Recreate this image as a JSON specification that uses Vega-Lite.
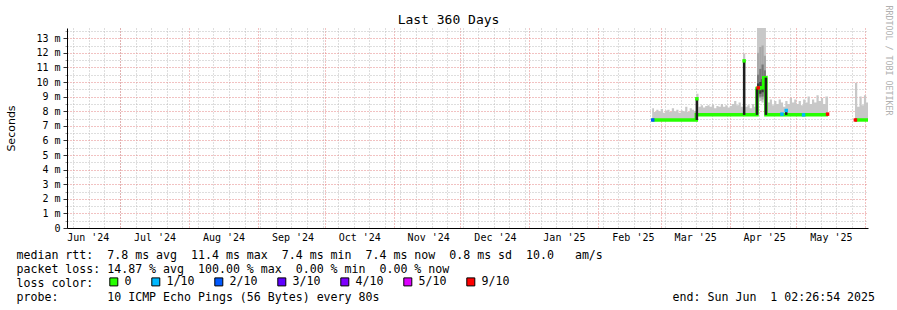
{
 "$schema": "https://vega.github.io/schema/vega-lite/v6.json",
 "width": 801, "height": 200,
 "autosize": {"type": "none"},
 "padding": {"left": 67, "top": 28, "right": 29, "bottom": 82},
 "background": "white",
 "config": {
  "view": {"stroke": null},
  "axis": {"labelFont": "DejaVu Sans Mono", "labelFontSize": 10, "labelColor": "#000", "titleFont": "DejaVu Sans Mono", "titleFontWeight": "normal", "titleColor": "#000", "labelFlush": false, "labelOverlap": false, "labelBound": false}
 },
 "datasets": {
  "days": [
   {"seg":"a","d":"2025-02-25T04:00:00Z","lo":7.4,"hi":8.2,"med":7.4},
   {"seg":"a","d":"2025-02-26T00:00:00Z","lo":7.4,"hi":7.95,"med":7.4},
   {"seg":"a","d":"2025-02-27T00:00:00Z","lo":7.4,"hi":8.1,"med":7.4},
   {"seg":"a","d":"2025-02-28T00:00:00Z","lo":7.4,"hi":8.0,"med":7.4},
   {"seg":"a","d":"2025-03-01T00:00:00Z","lo":7.4,"hi":8.15,"med":7.4},
   {"seg":"a","d":"2025-03-02T00:00:00Z","lo":7.4,"hi":7.9,"med":7.4},
   {"seg":"a","d":"2025-03-03T00:00:00Z","lo":7.4,"hi":8.05,"med":7.4},
   {"seg":"a","d":"2025-03-04T00:00:00Z","lo":7.4,"hi":8.1,"med":7.4},
   {"seg":"a","d":"2025-03-05T00:00:00Z","lo":7.4,"hi":7.95,"med":7.4},
   {"seg":"a","d":"2025-03-06T00:00:00Z","lo":7.4,"hi":8.2,"med":7.4},
   {"seg":"a","d":"2025-03-07T00:00:00Z","lo":7.4,"hi":8.0,"med":7.4},
   {"seg":"a","d":"2025-03-08T00:00:00Z","lo":7.4,"hi":8.1,"med":7.4},
   {"seg":"a","d":"2025-03-09T00:00:00Z","lo":7.4,"hi":7.9,"med":7.4},
   {"seg":"a","d":"2025-03-10T00:00:00Z","lo":7.4,"hi":8.05,"med":7.4},
   {"seg":"a","d":"2025-03-11T00:00:00Z","lo":7.4,"hi":8.0,"med":7.4},
   {"seg":"a","d":"2025-03-12T00:00:00Z","lo":7.4,"hi":8.3,"med":7.4},
   {"seg":"a","d":"2025-03-13T00:00:00Z","lo":7.4,"hi":7.95,"med":7.4},
   {"seg":"a","d":"2025-03-14T00:00:00Z","lo":7.4,"hi":8.2,"med":7.4},
   {"seg":"a","d":"2025-03-15T00:00:00Z","lo":7.4,"hi":8.1,"med":7.4},
   {"seg":"a","d":"2025-03-16T00:00:00Z","lo":7.4,"hi":8.0,"med":7.4},
   {"seg":"a","d":"2025-03-17T00:00:00Z","lo":7.75,"hi":9.2,"med":7.75},
   {"seg":"a","d":"2025-03-18T00:00:00Z","lo":7.75,"hi":8.3,"med":7.75},
   {"seg":"a","d":"2025-03-19T00:00:00Z","lo":7.75,"hi":8.4,"med":7.75},
   {"seg":"a","d":"2025-03-20T00:00:00Z","lo":7.75,"hi":8.25,"med":7.75},
   {"seg":"a","d":"2025-03-21T00:00:00Z","lo":7.75,"hi":8.35,"med":7.75},
   {"seg":"a","d":"2025-03-22T00:00:00Z","lo":7.75,"hi":8.4,"med":7.75},
   {"seg":"a","d":"2025-03-23T00:00:00Z","lo":7.75,"hi":8.3,"med":7.75},
   {"seg":"a","d":"2025-03-24T00:00:00Z","lo":7.75,"hi":8.45,"med":7.75},
   {"seg":"a","d":"2025-03-25T00:00:00Z","lo":7.75,"hi":8.2,"med":7.75},
   {"seg":"a","d":"2025-03-26T00:00:00Z","lo":7.75,"hi":8.35,"med":7.75},
   {"seg":"a","d":"2025-03-27T00:00:00Z","lo":7.75,"hi":8.3,"med":7.75},
   {"seg":"a","d":"2025-03-28T00:00:00Z","lo":7.75,"hi":8.5,"med":7.75},
   {"seg":"a","d":"2025-03-29T00:00:00Z","lo":7.75,"hi":8.3,"med":7.75},
   {"seg":"a","d":"2025-03-30T00:00:00Z","lo":7.75,"hi":8.4,"med":7.75},
   {"seg":"a","d":"2025-03-31T00:00:00Z","lo":7.75,"hi":8.25,"med":7.75},
   {"seg":"a","d":"2025-04-01T00:00:00Z","lo":7.75,"hi":8.35,"med":7.75},
   {"seg":"a","d":"2025-04-02T00:00:00Z","lo":7.75,"hi":8.5,"med":7.75},
   {"seg":"a","d":"2025-04-03T00:00:00Z","lo":7.75,"hi":8.7,"med":7.75},
   {"seg":"a","d":"2025-04-04T00:00:00Z","lo":7.75,"hi":8.4,"med":7.75},
   {"seg":"a","d":"2025-04-05T00:00:00Z","lo":7.75,"hi":8.6,"med":7.75},
   {"seg":"a","d":"2025-04-06T00:00:00Z","lo":7.75,"hi":8.3,"med":7.75},
   {"seg":"a","d":"2025-04-07T00:00:00Z","lo":7.75,"hi":11.95,"med":7.75},
   {"seg":"a","d":"2025-04-08T00:00:00Z","lo":7.75,"hi":8.3,"med":7.75},
   {"seg":"a","d":"2025-04-09T00:00:00Z","lo":7.75,"hi":8.4,"med":7.75},
   {"seg":"a","d":"2025-04-10T00:00:00Z","lo":7.75,"hi":8.2,"med":7.75},
   {"seg":"a","d":"2025-04-11T00:00:00Z","lo":7.75,"hi":8.5,"med":7.75},
   {"seg":"a","d":"2025-04-12T00:00:00Z","lo":7.75,"hi":8.3,"med":7.75},
   {"seg":"a","d":"2025-04-13T07:00:00Z","lo":8.9,"hi":13.7,"med":9.55},
   {"seg":"a","d":"2025-04-14T07:00:00Z","lo":8.7,"hi":13.7,"med":9.6},
   {"seg":"a","d":"2025-04-15T07:00:00Z","lo":8.6,"hi":13.7,"med":9.6},
   {"seg":"a","d":"2025-04-16T07:00:00Z","lo":8.9,"hi":13.7,"med":10.3},
   {"seg":"a","d":"2025-04-17T07:00:00Z","lo":7.75,"hi":8.9,"med":7.75},
   {"seg":"a","d":"2025-04-18T00:00:00Z","lo":7.75,"hi":8.6,"med":7.75},
   {"seg":"a","d":"2025-04-19T00:00:00Z","lo":7.75,"hi":8.8,"med":7.75},
   {"seg":"a","d":"2025-04-20T00:00:00Z","lo":7.75,"hi":8.4,"med":7.75},
   {"seg":"a","d":"2025-04-21T00:00:00Z","lo":7.75,"hi":8.7,"med":7.75},
   {"seg":"a","d":"2025-04-22T00:00:00Z","lo":7.75,"hi":8.5,"med":7.75},
   {"seg":"a","d":"2025-04-23T00:00:00Z","lo":7.75,"hi":8.8,"med":7.75},
   {"seg":"a","d":"2025-04-24T00:00:00Z","lo":7.75,"hi":8.6,"med":7.75},
   {"seg":"a","d":"2025-04-25T00:00:00Z","lo":7.75,"hi":8.3,"med":7.75},
   {"seg":"a","d":"2025-04-26T00:00:00Z","lo":7.75,"hi":8.7,"med":7.75},
   {"seg":"a","d":"2025-04-27T00:00:00Z","lo":7.75,"hi":8.5,"med":7.75},
   {"seg":"a","d":"2025-04-28T00:00:00Z","lo":7.75,"hi":8.9,"med":7.75},
   {"seg":"a","d":"2025-04-29T00:00:00Z","lo":7.75,"hi":8.6,"med":7.75},
   {"seg":"a","d":"2025-04-30T00:00:00Z","lo":7.75,"hi":8.8,"med":7.75},
   {"seg":"a","d":"2025-05-01T00:00:00Z","lo":7.75,"hi":8.5,"med":7.75},
   {"seg":"a","d":"2025-05-02T00:00:00Z","lo":7.75,"hi":8.7,"med":7.75},
   {"seg":"a","d":"2025-05-03T00:00:00Z","lo":7.75,"hi":8.4,"med":7.75},
   {"seg":"a","d":"2025-05-04T00:00:00Z","lo":7.75,"hi":8.8,"med":7.75},
   {"seg":"a","d":"2025-05-05T00:00:00Z","lo":7.75,"hi":8.6,"med":7.75},
   {"seg":"a","d":"2025-05-06T00:00:00Z","lo":7.75,"hi":9.0,"med":7.75},
   {"seg":"a","d":"2025-05-07T00:00:00Z","lo":7.75,"hi":8.5,"med":7.75},
   {"seg":"a","d":"2025-05-08T00:00:00Z","lo":7.75,"hi":8.8,"med":7.75},
   {"seg":"a","d":"2025-05-09T00:00:00Z","lo":7.75,"hi":8.6,"med":7.75},
   {"seg":"a","d":"2025-05-10T00:00:00Z","lo":7.75,"hi":9.1,"med":7.75},
   {"seg":"a","d":"2025-05-11T00:00:00Z","lo":7.75,"hi":8.7,"med":7.75},
   {"seg":"a","d":"2025-05-12T00:00:00Z","lo":7.75,"hi":8.9,"med":7.75},
   {"seg":"a","d":"2025-05-13T00:00:00Z","lo":7.75,"hi":8.5,"med":7.75},
   {"seg":"a","d":"2025-05-14T00:00:00Z","lo":7.75,"hi":9.0,"med":7.75},
   {"seg":"a","d":"2025-05-15T05:00:00Z","lo":7.75,"hi":9.0,"med":7.75},
   {"seg":"b","d":"2025-05-27T08:00:00Z","lo":7.4,"hi":9.95,"med":7.4},
   {"seg":"b","d":"2025-05-28T08:00:00Z","lo":7.4,"hi":8.3,"med":7.4},
   {"seg":"b","d":"2025-05-29T08:00:00Z","lo":7.4,"hi":9.0,"med":7.4},
   {"seg":"b","d":"2025-05-30T08:00:00Z","lo":7.4,"hi":8.4,"med":7.4},
   {"seg":"b","d":"2025-05-31T08:00:00Z","lo":7.4,"hi":9.1,"med":7.4},
   {"seg":"b","d":"2025-06-01T08:00:00Z","lo":7.4,"hi":8.6,"med":7.4},
   {"seg":"b","d":"2025-06-02T04:00:00Z","lo":7.4,"hi":8.6,"med":7.4}
  ],
  "bands": [
   {"band":"mid","d":"2025-04-13T07:00:00Z","d2":"2025-04-14T07:00:00Z","lo":9.0,"hi":12.0},
   {"band":"mid","d":"2025-04-14T07:00:00Z","d2":"2025-04-15T07:00:00Z","lo":8.9,"hi":12.4},
   {"band":"mid","d":"2025-04-15T07:00:00Z","d2":"2025-04-16T07:00:00Z","lo":8.8,"hi":12.5},
   {"band":"mid","d":"2025-04-16T07:00:00Z","d2":"2025-04-17T07:00:00Z","lo":9.0,"hi":11.8},
   {"band":"inner","d":"2025-04-13T07:00:00Z","d2":"2025-04-14T07:00:00Z","lo":9.1,"hi":10.5},
   {"band":"inner","d":"2025-04-14T07:00:00Z","d2":"2025-04-15T07:00:00Z","lo":9.0,"hi":10.9},
   {"band":"inner","d":"2025-04-15T07:00:00Z","d2":"2025-04-16T07:00:00Z","lo":9.0,"hi":11.2},
   {"band":"inner","d":"2025-04-16T07:00:00Z","d2":"2025-04-17T07:00:00Z","lo":9.2,"hi":10.8},
   {"band":"core","d":"2025-04-13T07:00:00Z","d2":"2025-04-14T07:00:00Z","lo":9.2,"hi":9.9},
   {"band":"core","d":"2025-04-14T07:00:00Z","d2":"2025-04-15T07:00:00Z","lo":9.2,"hi":10.0},
   {"band":"core","d":"2025-04-15T07:00:00Z","d2":"2025-04-16T07:00:00Z","lo":9.3,"hi":10.2},
   {"band":"core","d":"2025-04-16T07:00:00Z","d2":"2025-04-17T07:00:00Z","lo":9.6,"hi":10.3}
  ],
  "spikes": [
   {"d":"2025-03-17T06:00:00Z","lo":7.4,"hi":8.85},
   {"d":"2025-04-07T12:00:00Z","lo":7.75,"hi":11.45},
   {"d":"2025-04-13T07:00:00Z","lo":7.75,"hi":9.55},
   {"d":"2025-04-17T07:00:00Z","lo":7.75,"hi":10.3},
   {"d":"2025-04-26T10:00:00Z","lo":7.75,"hi":8.0}
  ],
  "loss": [
   {"d":"2025-02-25T10:00:00Z","med":7.4,"loss":"2/10"},
   {"d":"2025-03-17T06:00:00Z","med":8.85,"loss":"0"},
   {"d":"2025-04-07T12:00:00Z","med":11.45,"loss":"0"},
   {"d":"2025-04-13T20:00:00Z","med":9.6,"loss":"9/10"},
   {"d":"2025-04-24T12:00:00Z","med":7.8,"loss":"1/10"},
   {"d":"2025-04-26T10:00:00Z","med":8.05,"loss":"1/10"},
   {"d":"2025-05-04T05:00:00Z","med":7.75,"loss":"1/10"},
   {"d":"2025-05-15T00:00:00Z","med":7.8,"loss":"9/10"},
   {"d":"2025-05-27T12:00:00Z","med":7.4,"loss":"9/10"}
  ]
 },
 "layer": [
  {
   "data": {"name": "days"},
   "mark": {"type": "area", "interpolate": "step-after", "color": "#c8c8c8", "opacity": 1},
   "encoding": {
    "x": {"field": "d", "type": "temporal", "scale": {"type": "utc", "domain": [1717732800000, 1748836800000]},
     "axis": {"orient": "bottom", "values": [1717977600000,1718582400000,1719187200000,1719792000000,1720396800000,1721001600000,1721606400000,1722211200000,1722816000000,1723420800000,1724025600000,1724630400000,1725235200000,1725840000000,1726444800000,1727049600000,1727654400000,1728259200000,1728864000000,1729468800000,1730073600000,1730678400000,1731283200000,1731888000000,1732492800000,1733097600000,1733702400000,1734307200000,1734912000000,1735516800000,1736121600000,1736726400000,1737331200000,1737936000000,1738540800000,1739145600000,1739750400000,1740355200000,1740960000000,1741564800000,1742169600000,1742774400000,1743379200000,1743984000000,1744588800000,1745193600000,1745798400000,1746403200000,1747008000000,1747612800000,1748217600000],
      "grid": true, "gridColor": "#bdbdbd", "gridDash": [1, 2], "labels": false, "ticks": false, "domain": false, "title": null}},
    "y": {"field": "lo", "type": "quantitative", "scale": {"domain": [0, 13.7], "nice": false},
     "axis": {"orient": "left", "values": [0.5,1.5,2.5,3.5,4.5,5.5,6.5,7.5,8.5,9.5,10.5,11.5,12.5,13.5],
      "grid": true, "gridColor": "#bdbdbd", "gridDash": [1, 2], "labels": false, "ticks": true, "tickSize": 2, "tickColor": "#999999", "domain": false, "title": null}},
    "y2": {"field": "hi"},
    "detail": {"field": "seg"}
   }
  },
  {
   "data": {"name": "bands"},
   "mark": {"type": "rect"},
   "encoding": {
    "x": {"field": "d", "type": "temporal", "scale": {"type": "utc", "domain": [1717732800000, 1748836800000]},
     "axis": {"orient": "bottom", "values": [1719792000000,1722470400000,1725148800000,1727740800000,1730419200000,1733011200000,1735689600000,1738368000000,1740787200000,1743465600000,1746057600000,1748736000000],
      "grid": true, "gridColor": "#e58585", "gridDash": [1, 2], "labels": false, "ticks": false, "domain": false, "title": null}},
    "x2": {"field": "d2"},
    "y": {"field": "lo", "type": "quantitative", "scale": {"domain": [0, 13.7], "nice": false},
     "axis": {"orient": "left", "values": [0,1,2,3,4,5,6,7,8,9,10,11,12,13],
      "grid": true, "gridColor": "#e58585", "gridDash": [1, 2],
      "labelExpr": "datum.value == 0 ? '0' : datum.value + ' m'", "labelPadding": 3,
      "ticks": true, "tickSize": 4, "tickColor": "#333333", "domain": true, "domainColor": "#000000",
      "title": "Seconds", "titleFont": "DejaVu Sans", "titleFontSize": 11, "titleX": -56, "titleY": 100, "titleAngle": -90, "titleAlign": "center", "titleBaseline": "middle"}},
    "y2": {"field": "hi"},
    "fill": {"field": "band", "type": "nominal", "scale": {"domain": ["mid", "inner", "core"], "range": ["#a8a8a8", "#787878", "#3a3a3a"]}, "legend": null}
   }
  },
  {
   "data": {"name": "days"},
   "mark": {"type": "line", "interpolate": "step-after", "color": "#26ff00", "strokeWidth": 3.5},
   "encoding": {
    "x": {"field": "d", "type": "temporal", "scale": {"type": "utc", "domain": [1717732800000, 1748836800000]},
     "axis": {"orient": "bottom", "values": [1718539200000,1721131200000,1723809600000,1726488000000,1729080000000,1731758400000,1734350400000,1737028800000,1739707200000,1742126400000,1744804800000,1747396800000],
      "labelExpr": "utcFormat(datum.value, \"%b '%y\")", "grid": false, "ticks": false, "labelPadding": 4, "domain": true, "domainColor": "#000000",
      "title": [
       "median\u00a0rtt:\u00a0\u00a07.8\u00a0ms\u00a0avg\u00a0\u00a011.4\u00a0ms\u00a0max\u00a0\u00a07.4\u00a0ms\u00a0min\u00a0\u00a07.4\u00a0ms\u00a0now\u00a0\u00a00.8\u00a0ms\u00a0sd\u00a0\u00a010.0\u00a0\u00a0\u00a0am/s",
       "packet\u00a0loss:\u00a014.87\u00a0%\u00a0avg\u00a0\u00a0100.00\u00a0%\u00a0max\u00a0\u00a00.00\u00a0%\u00a0min\u00a0\u00a00.00\u00a0%\u00a0now",
       "loss\u00a0color:",
       "probe:\u00a0\u00a0\u00a0\u00a0\u00a0\u00a0\u00a010\u00a0ICMP\u00a0Echo\u00a0Pings\u00a0(56\u00a0Bytes)\u00a0every\u00a080s\u00a0\u00a0\u00a0\u00a0\u00a0\u00a0\u00a0\u00a0\u00a0\u00a0\u00a0\u00a0\u00a0\u00a0\u00a0\u00a0\u00a0\u00a0\u00a0\u00a0\u00a0\u00a0\u00a0\u00a0\u00a0\u00a0\u00a0\u00a0\u00a0\u00a0\u00a0\u00a0\u00a0\u00a0\u00a0\u00a0\u00a0\u00a0\u00a0\u00a0\u00a0\u00a0end:\u00a0Sun\u00a0Jun\u00a0\u00a01\u00a002:26:54\u00a02025"
      ],
      "titleFont": "DejaVu Sans Mono", "titleFontSize": 11.6, "titleLineHeight": 14, "titleX": -51, "titleY": 30.5, "titleAlign": "left", "titleAnchor": "start", "titleBaseline": "alphabetic", "titleAngle": 0}},
    "y": {"field": "med", "type": "quantitative", "scale": {"domain": [0, 13.7], "nice": false},
     "axis": {"orient": "right", "labels": false, "ticks": false, "domain": false, "grid": false,
      "title": "RRDTOOL / TOBI OETIKER", "titleFont": "DejaVu Sans Mono", "titleFontSize": 8.3, "titleColor": "#b0b0b0", "titleAngle": 90, "titleX": 19, "titleY": 32, "titleAlign": "center", "titleBaseline": "middle"}},
    "detail": {"field": "seg"}
   }
  },
  {
   "data": {"name": "spikes"},
   "mark": {"type": "rule", "color": "#1e1e1e", "strokeWidth": 2.5},
   "encoding": {
    "x": {"field": "d", "type": "temporal", "scale": {"type": "utc", "domain": [1717732800000, 1748836800000]},
     "axis": {"orient": "top", "labels": false, "ticks": false, "domain": false, "grid": false,
      "title": "Last 360 Days", "titleFont": "DejaVu Sans Mono", "titleFontSize": 13, "titleX": 381, "titleY": -5, "titleAlign": "center", "titleBaseline": "alphabetic", "titleAngle": 0}},
    "y": {"field": "lo", "type": "quantitative", "scale": {"domain": [0, 13.7], "nice": false}, "axis": null},
    "y2": {"field": "hi"}
   }
  },
  {
   "data": {"name": "loss"},
   "mark": {"type": "point", "shape": "square", "filled": true, "size": 12, "opacity": 1},
   "encoding": {
    "x": {"field": "d", "type": "temporal", "scale": {"type": "utc", "domain": [1717732800000, 1748836800000]}, "axis": null},
    "y": {"field": "med", "type": "quantitative", "scale": {"domain": [0, 13.7], "nice": false}, "axis": null},
    "color": {"field": "loss", "type": "nominal",
     "scale": {"domain": ["0", "1/10", "2/10", "3/10", "4/10", "5/10", "9/10"], "range": ["#26ff00", "#00b8ff", "#0059ff", "#5e00ff", "#7e00ff", "#dd00ff", "#ff0000"]},
     "legend": {"title": null, "orient": "none", "legendX": 41, "legendY": 248, "direction": "horizontal", "symbolType": "square", "symbolSize": 64, "symbolStrokeColor": "#000000", "symbolStrokeWidth": 1, "symbolOpacity": 1, "labelFont": "DejaVu Sans Mono", "labelFontSize": 11.6, "labelColor": "#000000", "labelOffset": 5, "columnPadding": 17, "padding": 0,
      "encode": {"symbols": {"update": {"stroke": {"value": "#000000"}, "strokeWidth": {"value": 1}}}}}}
   }
  }
 ],
 "resolve": {"axis": {"x": "independent", "y": "independent"}, "scale": {"color": "independent"}}
}
